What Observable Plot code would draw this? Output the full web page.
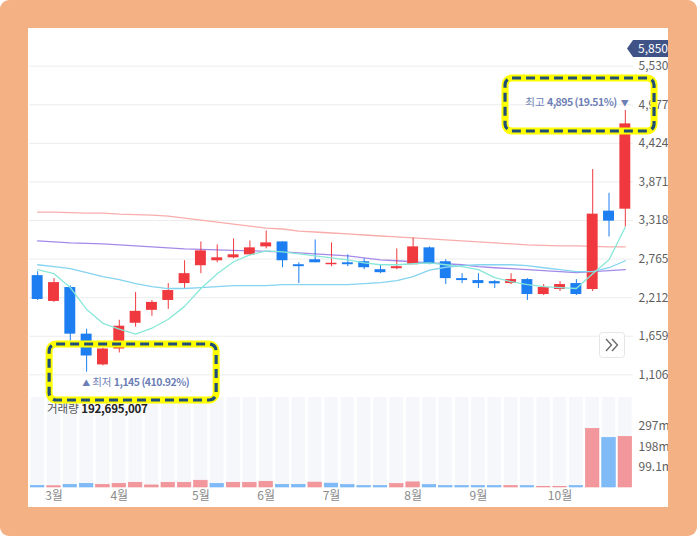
<!DOCTYPE html>
<html><head><meta charset="utf-8">
<script src="https://cdn.jsdelivr.net/npm/d3@7"></script>
<script src="https://cdn.jsdelivr.net/npm/@observablehq/plot@0.6"></script>
<style>
body{margin:0;background:#fff;}
#outer{position:relative;width:697px;height:536px;background:#f4b183;border-radius:9px;overflow:hidden;font-family:"Noto Sans CJK KR","Noto Sans",sans-serif;}
#panel{position:absolute;left:28px;top:28px;width:640px;height:479px;background:#fff;overflow:hidden;}
#price{position:absolute;left:0;top:0;}
#vol{position:absolute;left:0;top:369px;}
#overlay{position:absolute;left:0;top:0;pointer-events:none;}
</style></head><body>
<div id="outer"><div id="panel"><div id="price"></div><div id="vol"></div></div><svg id="overlay" width="697" height="536"></svg></div>
<script>
// ---- data (weekly candles) ----
const dates = ["2024-02-26","2024-03-04","2024-03-11","2024-03-18","2024-03-25","2024-04-01","2024-04-08","2024-04-15","2024-04-22","2024-04-29","2024-05-06","2024-05-13","2024-05-20","2024-05-27","2024-06-03","2024-06-10","2024-06-17","2024-06-24","2024-07-01","2024-07-08","2024-07-15","2024-07-22","2024-07-29","2024-08-05","2024-08-12","2024-08-19","2024-08-26","2024-09-02","2024-09-09","2024-09-16","2024-09-23","2024-09-30","2024-10-07","2024-10-14","2024-10-21","2024-10-28","2024-11-04"];
const open  = [2528,2158,2357,1689,1248,1476,1845,2030,2172,2414,2670,2741,2783,2826,2940,3011,2684,2755,2684,2712,2727,2613,2627,2684,2926,2727,2485,2457,2442,2414,2471,2257,2329,2414,2329,3452,3480];
const high  = [2584,2485,2380,1760,1490,1888,2286,2172,2414,2741,3011,2968,3054,3025,3167,3011,2712,3039,2997,2826,2769,2684,2911,3068,2940,2755,2556,2556,2457,2556,2485,2400,2442,2471,4049,3708,4895];
const low   = [2172,2144,1589,1145,1234,1419,1788,1945,2044,2343,2556,2712,2769,2812,2911,2641,2414,2712,2656,2656,2613,2556,2613,2684,2684,2400,2414,2343,2343,2400,2172,2243,2300,2243,2300,3082,3224];
const close = [2186,2428,1689,1376,1476,1803,2016,2144,2314,2556,2883,2783,2826,2926,2997,2741,2656,2712,2705,2684,2641,2570,2656,2940,2698,2485,2457,2414,2410,2471,2257,2357,2400,2257,3409,3309,4703];
const volumeM = [8,6,13,18,13,18,23,10,23,23,33,18,23,23,28,13,13,24,19,12,7,7,17,25,12,7,7,7,7,7,6.5,1.5,1.5,7,286,242,247];
const ma5   = [2613,2556,2357,2044,1845,1760,1689,1774,1902,2087,2343,2556,2727,2826,2883,2869,2840,2812,2783,2755,2712,2684,2684,2698,2712,2684,2656,2613,2499,2442,2400,2371,2357,2343,2556,2755,3224];
const ma20  = [2684,2656,2627,2570,2513,2471,2414,2371,2343,2343,2357,2371,2385,2385,2385,2400,2400,2400,2400,2400,2414,2428,2457,2513,2606,2648,2670,2684,2684,2684,2670,2641,2613,2584,2584,2641,2741];
const ma60  = [3025,3011,2997,2990,2982,2968,2954,2940,2926,2911,2904,2897,2890,2883,2876,2869,2855,2840,2826,2812,2783,2755,2741,2727,2712,2698,2684,2656,2641,2627,2613,2599,2584,2570,2584,2599,2613];
const ma120 = [3437,3437,3430,3423,3423,3409,3402,3395,3381,3352,3324,3295,3267,3238,3210,3196,3167,3153,3139,3125,3110,3096,3082,3068,3054,3039,3025,3011,2997,2982,2968,2961,2954,2954,2947,2940,2940];
const priceTicks = [1106,1659,2212,2765,3318,3871,4424,4977,5530];
const volTicks = [99.1e6,198.2e6,297.3e6];
const volTickLabels = ["99.1m","198m","297m"];
const monthTicks = ["2024-03-04","2024-04-01","2024-05-06","2024-06-03","2024-07-01","2024-08-05","2024-09-02","2024-10-07"];
const monthLabels = ["3월","4월","5월","6월","7월","8월","9월","10월"];
const currentPrice = 5850;
const currentVolume = 192695007;

// ---- build table ----
const data = dates.map((d,i)=>({
  date:d, open:open[i], high:high[i], low:low[i], close:close[i],
  vol:volumeM[i]*1e6,
  up: close[i] >= open[i],
  volUp: i===0 ? close[i] >= open[i] : close[i] >= close[i-1],
  ma5:ma5[i], ma20:ma20[i], ma60:ma60[i], ma120:ma120[i]
}));

const RED="#f0393f", BLUE="#1c7ef0";
const VRED="#f2979c", VBLUE="#80bbf7";
const FONT='"Noto Sans CJK KR","Noto Sans",sans-serif';
const fmt = d3.format(",");

const price = Plot.plot({
  width:640, height:369, marginLeft:1, marginRight:35, marginTop:0, marginBottom:0,
  style:{fontFamily:FONT, fontSize:"12px", background:"transparent", overflow:"hidden"},
  x:{type:"band", domain:dates, padding:0, round:false, axis:null},
  y:{domain:[781,6070]},
  marks:[
    Plot.gridY(priceTicks,{stroke:"#ececec", strokeOpacity:1}),
    Plot.axisY(priceTicks,{anchor:"right", tickSize:0, tickPadding:5, tickFormat:fmt, fill:"#5f5f5f", fontSize:12, textAnchor:"start", label:null}),
    Plot.line(data,{x:"date", y:"ma120", stroke:"#f8adab", strokeWidth:1.3}),
    Plot.line(data,{x:"date", y:"ma60", stroke:"#a48ae8", strokeWidth:1.3}),
    Plot.ruleX(data,{x:"date", y1:"low", y2:"high", stroke:d=>d.up?RED:BLUE, strokeWidth:1}),
    Plot.barY(data,{x:"date", y1:"open", y2:"close", fill:d=>d.up?RED:BLUE, insetLeft:2.7, insetRight:2.7}),
    Plot.line(data,{x:"date", y:"ma20", stroke:"#84d3ef", strokeWidth:1.3}),
    Plot.line(data,{x:"date", y:"ma5", stroke:"#88e8d8", strokeWidth:1.3})
  ]
});
document.getElementById("price").appendChild(price);

const vmax = 439e6;
const vol = Plot.plot({
  width:640, height:110, marginLeft:1, marginRight:35, marginTop:0, marginBottom:20,
  style:{fontFamily:FONT, fontSize:"12px", background:"transparent"},
  x:{type:"band", domain:dates, padding:0, round:false},
  y:{domain:[0,vmax]},
  marks:[
    Plot.barY(data,{x:"date", y:()=>vmax, fill:"#f5f7fb", insetLeft:1.4, insetRight:1.4}),
    Plot.barY(data,{x:"date", y:"vol", fill:d=>d.volUp?VRED:VBLUE, stroke:d=>d.volUp?"#ef8c92":"#72b2f5", strokeWidth:0.6, insetLeft:1.4, insetRight:1.4}),
    Plot.axisY(volTicks,{anchor:"right", tickSize:0, tickPadding:5, tickFormat:d=>volTickLabels[volTicks.indexOf(d)], fill:"#5f5f5f", fontSize:12, textAnchor:"start", label:null}),
    Plot.axisX(monthTicks,{anchor:"bottom", tickSize:0, tickPadding:4, tickFormat:d=>monthLabels[monthTicks.indexOf(d)], fill:"#8a8a8a", fontSize:12, label:null})
  ]
});
document.getElementById("vol").appendChild(vol);

// ---- overlays ----
const OX=28, OY=28;
const xs = price.scale("x"), ys = price.scale("y");
const cx = d => xs.apply(d) + xs.bandwidth/2;

// current price tag
const psvg = d3.select(price);
const yt = Math.max(ys.apply(currentPrice), 20.5);
const tx = xs.range[1];
psvg.append("path")
  .attr("d", `M${tx-6},${yt} L${tx},${yt-8.5} L${tx+40},${yt-8.5} L${tx+40},${yt+8.5} L${tx},${yt+8.5} Z`)
  .attr("fill","#3f5387");
psvg.append("text").attr("x", tx+5).attr("y", yt).attr("dy","0.35em").attr("text-anchor","start")
  .attr("fill","#fff").attr("font-size",12).attr("font-family",FONT).text(fmt(currentPrice));

const ov = d3.select("#overlay").attr("font-family", FONT);
const hiIdx = high.indexOf(d3.max(high));
const loIdx = low.indexOf(d3.min(low));
const xh = cx(dates[hiIdx]) + OX, yh = ys.apply(high[hiIdx]) + OY;
const xl = cx(dates[loIdx]) + OX, yl = ys.apply(low[loIdx]) + OY;
const pctHi = ((currentPrice/high[hiIdx]-1)*100).toFixed(2);
const pctLo = ((currentPrice/low[loIdx]-1)*100).toFixed(2);

const ht = ov.append("text").attr("x", xh+4).attr("y", yh-8).attr("dy","0.35em")
  .attr("text-anchor","end").attr("font-size",10.5).attr("fill","#6d7fb6");
ht.append("tspan").text("최고 ");
ht.append("tspan").attr("font-weight","bold").attr("letter-spacing","-0.5").text(`${fmt(high[hiIdx])} (${pctHi}%)`);
ht.append("tspan").attr("font-size",8).attr("dx",4).text("▼");

const lt = ov.append("text").attr("x", xl-4).attr("y", yl+10.5).attr("dy","0.35em")
  .attr("text-anchor","start").attr("font-size",10.5).attr("fill","#6d7fb6");
lt.append("tspan").attr("font-size",8).text("▲");
lt.append("tspan").attr("dx",2).text("최저 ");
lt.append("tspan").attr("font-weight","bold").attr("letter-spacing","-0.5").text(`${fmt(low[loIdx])} (${pctLo}%)`);

// volume label
const vt = ov.append("text").attr("x", 47).attr("y", 409).attr("dy","0.35em").attr("font-size",11.5);
vt.append("tspan").attr("fill","#555").text("거래량 ");
vt.append("tspan").attr("fill","#222").attr("font-weight","bold").attr("letter-spacing","-0.2").text(fmt(currentVolume));

// ">>" scroll button
ov.append("rect").attr("x",599.5).attr("y",332.5).attr("width",25).attr("height",25).attr("rx",3)
  .attr("fill","#fff").attr("stroke","#e6e6e6");
ov.append("path").attr("d","M606,339 L611.5,345 L606,351 M612,339 L617.5,345 L612,351")
  .attr("fill","none").attr("stroke","#666").attr("stroke-width",1.3);

// highlight boxes
function hbox(x0,y0,x1,y1){
  ov.append("rect").attr("x",x0).attr("y",y0).attr("width",x1-x0).attr("height",y1-y0).attr("rx",7)
    .attr("fill","none").attr("stroke","#ffff00").attr("stroke-width",7);
  ov.append("rect").attr("x",x0).attr("y",y0).attr("width",x1-x0).attr("height",y1-y0).attr("rx",7)
    .attr("fill","none").attr("stroke","#1f4e79").attr("stroke-width",3.2).attr("stroke-dasharray","9 5");
}
hbox(xh-119.8, yh-32, xh+29.2, yh+21);
hbox(xl-37, yl-27.6, xl+130, yl+28.4);
</script>
</body></html>
